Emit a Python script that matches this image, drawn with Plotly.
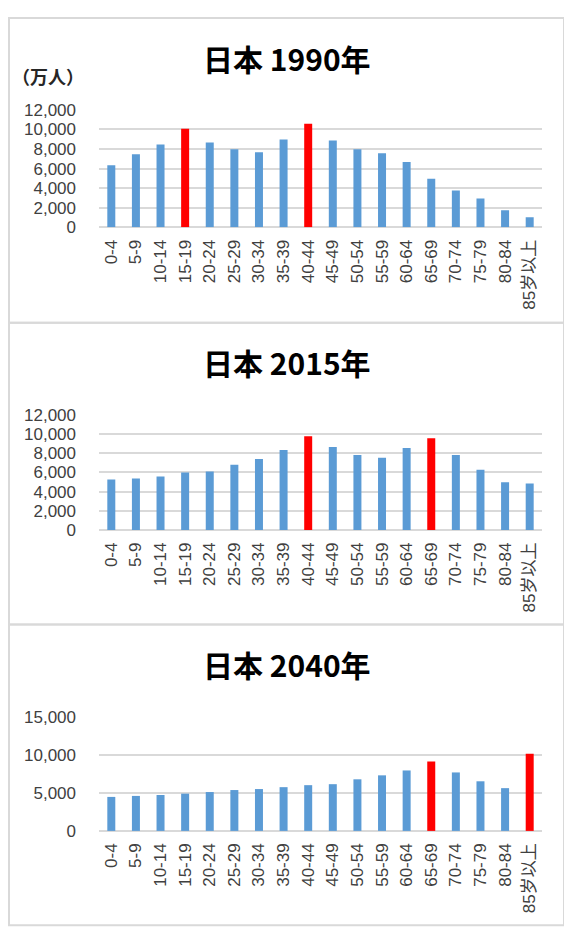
import plotly.graph_objects as go

W, H = 572, 940
OFF = 8  # the page body adds an 8px margin, so place everything 8px up/left

AGE_GROUPS = ["0-4", "5-9", "10-14", "15-19", "20-24", "25-29", "30-34", "35-39",
              "40-44", "45-49", "50-54", "55-59", "60-64", "65-69", "70-74",
              "75-79", "80-84", "85岁以上"]

POP_1990 = [6350, 7460, 8460, 10070, 8660, 7960, 7660, 8960, 10570,
            8860, 7960, 7560, 6660, 4950, 3750, 2940, 1740, 1040]
POP_2015 = [5270, 5370, 5580, 5990, 6090, 6800, 7410, 8330, 9760,
            8640, 7820, 7520, 8540, 9560, 7820, 6290, 4970, 4860]
POP_2040 = [4460, 4590, 4710, 4890, 5100, 5360, 5490, 5740, 6000,
            6130, 6770, 7290, 7930, 9090, 7670, 6510, 5610, 10110]

HIGHLIGHT_1990 = ["15-19", "40-44"]
HIGHLIGHT_2015 = ["40-44", "65-69"]
HIGHLIGHT_2040 = ["65-69", "85岁以上"]

TITLES = ["日本 1990年", "日本 2015年", "日本 2040年"]

BLUE = "#5B9BD5"
RED = "#FF0000"
GRID = "#D9D9D9"
CJK = "Noto Sans CJK JP"
TICK_FONT = "Liberation Sans, Noto Sans CJK JP"


def px_x(p):
    return (p - OFF) / W


def px_y(p):
    return 1 - (p - OFF) / H


# zero line, top gridline, title y, y max, dtick, panel top, panel bottom (picture px)
panels = [
    (222.7, 102.7, 50, 12000, 2000, 9, 320),
    (531.7, 414.0, 360, 12000, 2000, 320, 628),
    (838.7, 722.0, 668, 15000, 5000, 628, 935),
]
series = [(POP_1990, HIGHLIGHT_1990), (POP_2015, HIGHLIGHT_2015), (POP_2040, HIGHLIGHT_2040)]

fig = go.Figure()
shapes, annotations = [], []
x_dom = [px_x(99), px_x(542)]

for i, ((vals, hl), (y0, y1, ty, ymax, dt, pt, pb)) in enumerate(zip(series, panels)):
    n = "" if i == 0 else str(i + 1)
    colors = [RED if a in hl else BLUE for a in AGE_GROUPS]
    fig.add_trace(go.Bar(x=AGE_GROUPS, y=vals, marker_color=colors,
                         marker_line_width=0, xaxis="x" + n, yaxis="y" + n,
                         showlegend=False))
    fig.update_layout(**{
        "xaxis" + n: dict(domain=x_dom, anchor="y" + n, tickangle=-90,
                          tickfont=dict(size=17, color="#404040", family=TICK_FONT),
                          showgrid=False, showline=False, ticks="",
                          ticklabelstandoff=8, fixedrange=True),
        "yaxis" + n: dict(domain=[px_y(y0), px_y(y1)], anchor="x" + n,
                          range=[0, ymax], dtick=dt, tickformat=",d",
                          tickfont=dict(size=17, color="#404040", family=TICK_FONT),
                          gridcolor=GRID, gridwidth=2, zeroline=True,
                          zerolinecolor=GRID, zerolinewidth=2, showline=False,
                          ticks="", ticklabelstandoff=22, fixedrange=True),
    })
    annotations.append(dict(text="<b>" + TITLES[i] + "</b>", x=px_x(287), y=px_y(ty),
                            xref="paper", yref="paper", showarrow=False,
                            xanchor="center", yanchor="middle",
                            font=dict(size=30, color="#000000", family=CJK)))
    shapes.append(dict(type="rect", xref="paper", yref="paper",
                       x0=px_x(9), x1=px_x(564), y0=px_y(pb), y1=px_y(pt),
                       line=dict(color=GRID, width=2)))

# unit label, kept inside the left edge
annotations.append(dict(text="<b>（万人）</b>", x=px_x(10), y=px_y(68), xref="paper",
                        yref="paper", showarrow=False, xanchor="left",
                        yanchor="middle",
                        font=dict(size=18, color="#262626", family=CJK)))

fig.update_layout(
    width=W, height=H,
    margin=dict(l=0, r=0, t=0, b=0),
    paper_bgcolor="white", plot_bgcolor="white",
    bargap=0.675,
    font=dict(family=CJK),
    shapes=shapes, annotations=annotations,
)

fig.write_html("out.html")
